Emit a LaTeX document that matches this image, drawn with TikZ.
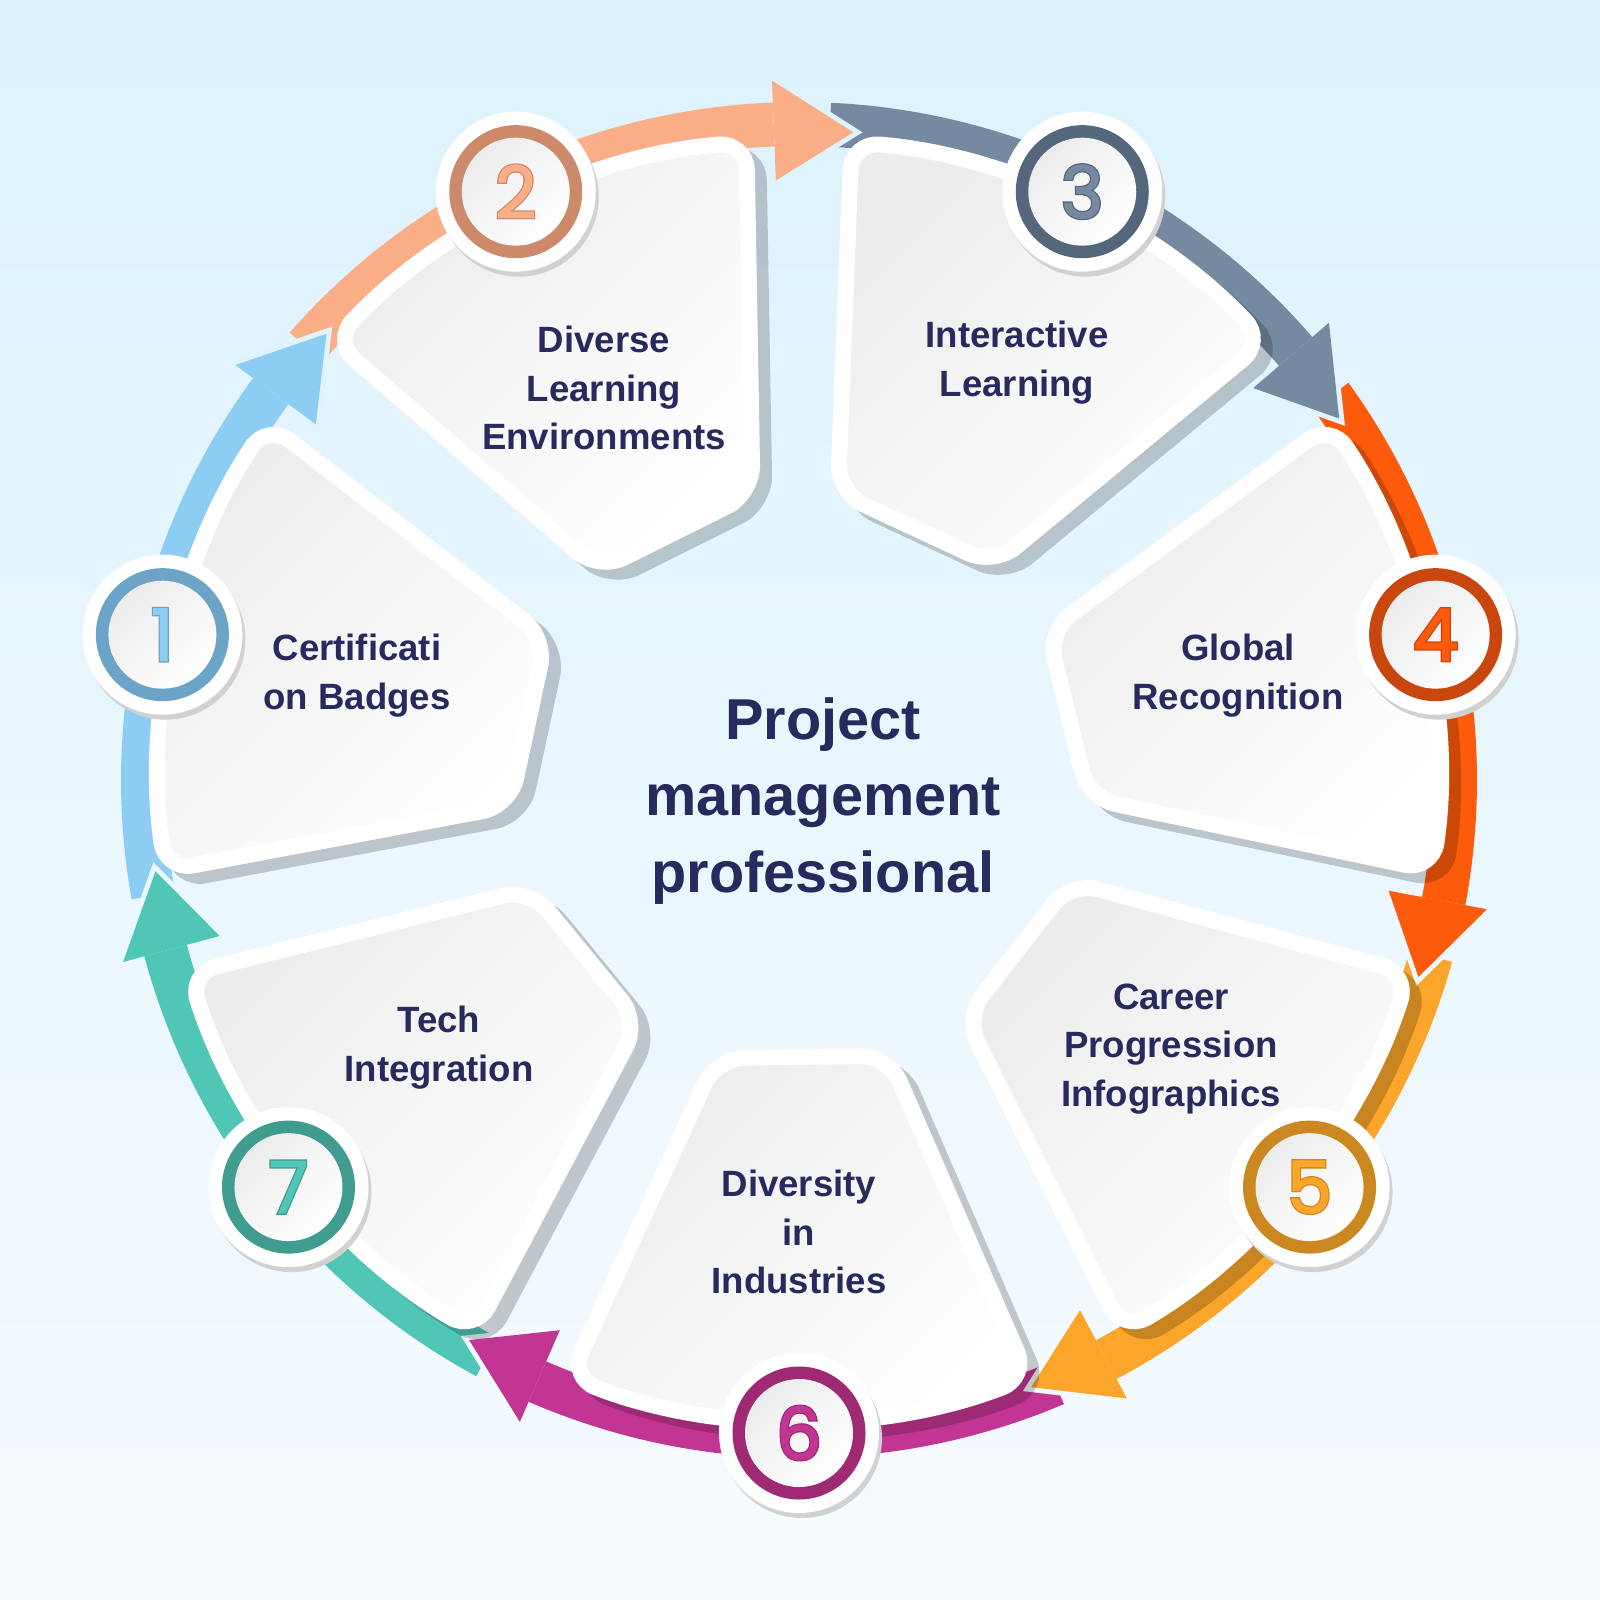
\documentclass[tikz,border=0pt]{standalone}
\usepackage{fontspec}
\setmainfont{Liberation Sans}
\newfontfamily\numfont{Poppins}[FakeBold=1.5]
\newfontfamily\numfontout{Poppins}[FakeBold=5]
\definecolor{bgtop}{HTML}{DCF2FD}
\definecolor{bgbot}{HTML}{F6FBFF}
\definecolor{navy}{HTML}{282A5E}
\definecolor{cardtop}{HTML}{ECECEC}
\definecolor{arrowA}{HTML}{8DCDF4}
\definecolor{ringA}{HTML}{6CA4C8}
\definecolor{arrowB}{HTML}{F9AE88}
\definecolor{ringB}{HTML}{CC8A6B}
\definecolor{arrowC}{HTML}{758AA0}
\definecolor{ringC}{HTML}{55677A}
\definecolor{arrowD}{HTML}{FE5A0B}
\definecolor{ringD}{HTML}{C9470F}
\definecolor{arrowE}{HTML}{FBA62A}
\definecolor{ringE}{HTML}{CC8820}
\definecolor{arrowF}{HTML}{C33592}
\definecolor{ringF}{HTML}{9D2A73}
\definecolor{arrowG}{HTML}{50C6B6}
\definecolor{ringG}{HTML}{3F9C8E}

\begin{document}
\begin{tikzpicture}[x=0.01cm,y=-0.01cm,
  card/.style={rounded corners=8pt,draw=white,line width=4.5pt,top color=cardtop,bottom color=white,shading angle=45},
  cardshade/.style={rounded corners=8pt,draw=black,fill=black,line width=4.5pt},
  gap/.style={line width=2.8pt,draw=#1},
  disc/.style={fill=white},
  discshade/.style={fill=black!18},
  face/.style={top color=cardtop,bottom color=white,shading angle=45},
  digit/.style={font=\numfont\fontsize{20.5}{20.5}\selectfont,inner sep=0pt},
  digitout/.style={font=\numfontout\fontsize{20.5}{20.5}\selectfont,inner sep=0pt},
  steptext/.style={text=navy,font=\bfseries\fontsize{10.4}{13.9}\selectfont,align=center},
  title/.style={text=navy,font=\bfseries\fontsize{16.4}{21.8}\selectfont,align=center}]
  \shade[top color=bgtop,bottom color=bgbot] (0,0) rectangle (1600,1600);
  \begin{scope}[shift={(799,780)}]
    \fill[arrowA] (169.86:678) arc[start angle=169.86,end angle=216.36,radius=678] -- (216.36:634) arc[start angle=216.36,end angle=169.86,radius=634] -- cycle;
    \fill[arrowB] (221.29:678) arc[start angle=221.29,end angle=267.79,radius=678] -- (267.79:634) arc[start angle=267.79,end angle=221.29,radius=634] -- cycle;
    \fill[arrowC] (272.71:678) arc[start angle=272.71,end angle=319.21,radius=678] -- (319.21:634) arc[start angle=319.21,end angle=272.71,radius=634] -- cycle;
    \fill[arrowD] (324.14:678) arc[start angle=324.14,end angle=370.64,radius=678] -- (370.64:634) arc[start angle=370.64,end angle=324.14,radius=634] -- cycle;
    \fill[arrowE] (375.57:678) arc[start angle=375.57,end angle=422.07,radius=678] -- (422.07:634) arc[start angle=422.07,end angle=375.57,radius=634] -- cycle;
    \fill[arrowF] (427:678) arc[start angle=427,end angle=473.5,radius=678] -- (473.5:634) arc[start angle=473.5,end angle=427,radius=634] -- cycle;
    \fill[arrowG] (478.43:678) arc[start angle=478.43,end angle=524.93,radius=678] -- (524.93:634) arc[start angle=524.93,end angle=478.43,radius=634] -- cycle;

    \draw[gap=bgbot!20!bgtop] (216.36:700) -- (223.36:650) -- (216.36:600);
    \fill[arrowA] (216.36:700) -- (223.36:650) -- (216.36:600) -- cycle;
    \draw[gap=bgbot!8!bgtop] (267.79:700) -- (274.79:650) -- (267.79:600);
    \fill[arrowB] (267.79:700) -- (274.79:650) -- (267.79:600) -- cycle;
    \draw[gap=bgbot!26!bgtop] (319.21:700) -- (326.21:650) -- (319.21:600);
    \fill[arrowC] (319.21:700) -- (326.21:650) -- (319.21:600) -- cycle;
    \draw[gap=bgbot!61!bgtop] (370.64:700) -- (377.64:650) -- (370.64:600);
    \fill[arrowD] (370.64:700) -- (377.64:650) -- (370.64:600) -- cycle;
    \draw[gap=bgbot!86!bgtop] (422.07:700) -- (429.07:650) -- (422.07:600);
    \fill[arrowE] (422.07:700) -- (429.07:650) -- (422.07:600) -- cycle;
    \draw[gap=bgbot!83!bgtop] (473.5:700) -- (480.5:650) -- (473.5:600);
    \fill[arrowF] (473.5:700) -- (480.5:650) -- (473.5:600) -- cycle;
    \draw[gap=bgbot!54!bgtop] (524.93:700) -- (531.93:650) -- (524.93:600);
    \fill[arrowG] (524.93:700) -- (531.93:650) -- (524.93:600) -- cycle;

    \begin{scope}[transparency group,opacity=0.2,shift={(12,10)}]
      \path[cardshade] (171.86:640) arc[start angle=171.86,end angle=213.86,radius=640] -- (209.36:290) -- (174.86:290) -- cycle;
      \path[cardshade] (223.29:640) arc[start angle=223.29,end angle=265.29,radius=640] -- (260.79:290) -- (226.29:290) -- cycle;
      \path[cardshade] (274.71:640) arc[start angle=274.71,end angle=316.71,radius=640] -- (312.21:290) -- (277.71:290) -- cycle;
      \path[cardshade] (326.14:640) arc[start angle=326.14,end angle=368.14,radius=640] -- (363.64:290) -- (329.14:290) -- cycle;
      \path[cardshade] (377.57:640) arc[start angle=377.57,end angle=419.57,radius=640] -- (415.07:290) -- (380.57:290) -- cycle;
      \path[cardshade] (429:640) arc[start angle=429,end angle=471,radius=640] -- (466.5:290) -- (432:290) -- cycle;
      \path[cardshade] (480.43:640) arc[start angle=480.43,end angle=522.43,radius=640] -- (517.93:290) -- (483.43:290) -- cycle;
    \end{scope}

    \path[card] (171.86:640) arc[start angle=171.86,end angle=213.86,radius=640] -- (209.36:290) -- (174.86:290) -- cycle;
    \path[card] (223.29:640) arc[start angle=223.29,end angle=265.29,radius=640] -- (260.79:290) -- (226.29:290) -- cycle;
    \path[card] (274.71:640) arc[start angle=274.71,end angle=316.71,radius=640] -- (312.21:290) -- (277.71:290) -- cycle;
    \path[card] (326.14:640) arc[start angle=326.14,end angle=368.14,radius=640] -- (363.64:290) -- (329.14:290) -- cycle;
    \path[card] (377.57:640) arc[start angle=377.57,end angle=419.57,radius=640] -- (415.07:290) -- (380.57:290) -- cycle;
    \path[card] (429:640) arc[start angle=429,end angle=471,radius=640] -- (466.5:290) -- (432:290) -- cycle;
    \path[card] (480.43:640) arc[start angle=480.43,end angle=522.43,radius=640] -- (517.93:290) -- (483.43:290) -- cycle;

    \fill[discshade] ([shift={(3,5)}]192.86:653) circle[radius=80];
    \fill[disc] (192.86:653) circle[radius=80];
    \fill[ringA] (192.86:653) circle[radius=66.5];
    \shade[face] (192.86:653) circle[radius=54];
    \node[digitout,text=ringA] (n1o) at (192.86:653) {1};
    \node[digit,text=arrowA] (n1) at (192.86:653) {1};

    \fill[discshade] ([shift={(3,5)}]244.29:653) circle[radius=80];
    \fill[disc] (244.29:653) circle[radius=80];
    \fill[ringB] (244.29:653) circle[radius=66.5];
    \shade[face] (244.29:653) circle[radius=54];
    \node[digitout,text=ringB] (n2o) at (244.29:653) {2};
    \node[digit,text=arrowB] (n2) at (244.29:653) {2};

    \fill[discshade] ([shift={(3,5)}]295.71:653) circle[radius=80];
    \fill[disc] (295.71:653) circle[radius=80];
    \fill[ringC] (295.71:653) circle[radius=66.5];
    \shade[face] (295.71:653) circle[radius=54];
    \node[digitout,text=ringC] (n3o) at (295.71:653) {3};
    \node[digit,text=arrowC] (n3) at (295.71:653) {3};

    \fill[discshade] ([shift={(3,5)}]347.14:653) circle[radius=80];
    \fill[disc] (347.14:653) circle[radius=80];
    \fill[ringD] (347.14:653) circle[radius=66.5];
    \shade[face] (347.14:653) circle[radius=54];
    \node[digitout,text=ringD] (n4o) at (347.14:653) {4};
    \node[digit,text=arrowD] (n4) at (347.14:653) {4};

    \fill[discshade] ([shift={(3,5)}]38.57:653) circle[radius=80];
    \fill[disc] (38.57:653) circle[radius=80];
    \fill[ringE] (38.57:653) circle[radius=66.5];
    \shade[face] (38.57:653) circle[radius=54];
    \node[digitout,text=ringE] (n5o) at (38.57:653) {5};
    \node[digit,text=arrowE] (n5) at (38.57:653) {5};

    \fill[discshade] ([shift={(3,5)}]90:653) circle[radius=80];
    \fill[disc] (90:653) circle[radius=80];
    \fill[ringF] (90:653) circle[radius=66.5];
    \shade[face] (90:653) circle[radius=54];
    \node[digitout,text=ringF] (n6o) at (90:653) {6};
    \node[digit,text=arrowF] (n6) at (90:653) {6};

    \fill[discshade] ([shift={(3,5)}]141.43:653) circle[radius=80];
    \fill[disc] (141.43:653) circle[radius=80];
    \fill[ringG] (141.43:653) circle[radius=66.5];
    \shade[face] (141.43:653) circle[radius=54];
    \node[digitout,text=ringG] (n7o) at (141.43:653) {7};
    \node[digit,text=arrowG] (n7) at (141.43:653) {7};
  \end{scope}

  \node[steptext] (t1) at (357,676) {Certificati\\on Badges};
  \node[steptext] (t2) at (604,388) {Diverse\\Learning\\Environments};
  \node[steptext] (t3) at (1017,363) {Interactive\\Learning};
  \node[steptext] (t4) at (1238,676) {Global\\Recognition};
  \node[steptext] (t5) at (1171,1049) {Career\\Progression\\Infographics};
  \node[steptext] (t6) at (799,1232) {Diversity\\in\\Industries};
  \node[steptext] (t7) at (439,1048) {Tech\\Integration};
  \node[title] (title) at (823,801) {Project\\management\\professional};
\end{tikzpicture}
\end{document}
